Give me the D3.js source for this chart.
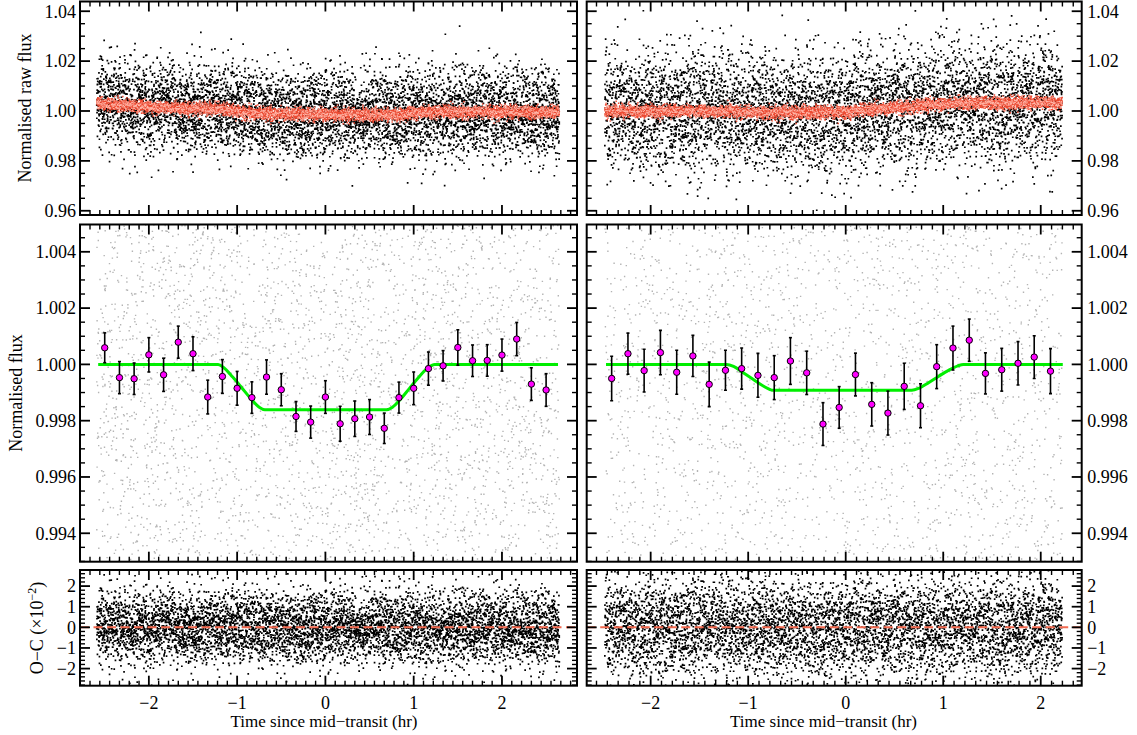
<!DOCTYPE html>
<html><head><meta charset="utf-8">
<script src="https://cdn.jsdelivr.net/npm/d3@7"></script>
<style>
body{margin:0;background:#fff}
svg text{font-family:"Liberation Serif","Times New Roman",Times,serif;fill:#000}
</style>
</head><body>
<svg id="chart" width="1137" height="735" font-family="Liberation Serif, Times New Roman, serif"></svg>
<script>
// ---------------- DATA ----------------
// binned light curve, left transit
const binTimeL = [-2.5,-2.333,-2.167,-2.0,-1.833,-1.667,-1.5,-1.333,-1.167,-1.0,-0.833,-0.667,-0.5,-0.333,-0.167,0.0,0.167,0.333,0.5,0.667,0.833,1.0,1.167,1.333,1.5,1.667,1.833,2.0,2.167,2.333,2.5];
const binFluxL = [1.00059,0.99953,0.99949,1.00034,0.99963,1.00079,1.00038,0.99884,0.99957,0.99915,0.99882,0.99955,0.99910,0.99815,0.99795,0.99884,0.99789,0.99807,0.99813,0.99773,0.99882,0.99915,0.99985,0.99995,1.00060,1.00013,1.00014,1.00033,1.00090,0.99930,0.99909];
const binErrL  = [0.00053,0.00057,0.00056,0.00061,0.00059,0.00057,0.00060,0.00060,0.00060,0.00060,0.00056,0.00061,0.00057,0.00053,0.00057,0.00058,0.00062,0.00063,0.00062,0.00054,0.00055,0.00058,0.00059,0.00054,0.00063,0.00056,0.00056,0.00057,0.00059,0.00058,0.00058];
// binned light curve, right transit
const binTimeR = [-2.4,-2.233,-2.067,-1.9,-1.733,-1.567,-1.4,-1.233,-1.067,-0.9,-0.733,-0.567,-0.4,-0.233,-0.067,0.1,0.267,0.433,0.6,0.767,0.933,1.1,1.267,1.433,1.6,1.767,1.933,2.1];
const binFluxR = [0.99950,1.00038,0.99978,1.00042,0.99972,1.00030,0.99929,0.99979,0.99985,0.99961,0.99953,1.00012,0.99970,0.99788,0.99847,0.99964,0.99858,0.99827,0.99922,0.99853,0.99992,1.00058,1.00086,0.99968,0.99981,1.00004,1.00026,0.99976];
const binErrR  = [0.00079,0.00073,0.00076,0.00079,0.00078,0.00073,0.00079,0.00071,0.00073,0.00078,0.00078,0.00083,0.00077,0.00076,0.00074,0.00076,0.00077,0.00078,0.00082,0.00078,0.00078,0.00078,0.00075,0.00073,0.00076,0.00077,0.00076,0.00080];
// transit model (green line)
const modelTimeL = [-2.574,-1.215,-1.15,-1.05,-0.95,-0.85,-0.75,-0.686,0.692,0.76,0.85,0.95,1.05,1.15,1.239,2.635];
const modelFluxL = [1,1,0.99988,0.99955,0.99918,0.99880,0.99848,0.99839,0.99839,0.99848,0.99876,0.99914,0.99952,0.99985,1,1];
const modelTimeR = [-2.458,-1.221,-1.15,-1.05,-0.95,-0.85,-0.742,0.677,0.75,0.85,0.95,1.05,1.15,1.206,2.226];
const modelFluxR = [1,1,0.99993,0.99970,0.99947,0.99924,0.99908,0.99908,0.99915,0.99935,0.99957,0.99978,0.99995,1,1];
// systematics trend of the raw flux (red band centre)
const trendTimeL = [-2.59,-2.0,-1.0,0.0,1.0,2.0,2.65];
const trendFluxL = [1.0030,1.0016,1.0006,1.0002,0.9998,0.9996,0.9996];
const trendTimeR = [-2.47,-1.0,0.0,0.4,0.8,2.22];
const trendFluxR = [0.9999,1.0000,1.0005,1.0020,1.0030,1.0033];
// unbinned cloud description (individual points are not readable)
const cloudSpanL = [-2.59, 2.65], cloudCountL = 6500, cloudSigmaL = 0.0088;
const cloudSpanR = [-2.47, 2.22], cloudCountR = 6000, cloudSigmaR = 0.0120;
const bandSigma = 0.0012;
// axis ticks and labels
const xTicks = [-2,-1,0,1,2];
const xTickLabels = ["\u22122","\u22121","0","1","2"];
const rawTicks = [0.96,0.98,1.00,1.02,1.04];
const rawTickLabels = ["0.96","0.98","1.00","1.02","1.04"];
const fluxTicks = [0.994,0.996,0.998,1.000,1.002,1.004];
const fluxTickLabels = ["0.994","0.996","0.998","1.000","1.002","1.004"];
const ocTicks = [-2,-1,0,1,2];
const ocTickLabels = ["\u22122","\u22121","0","1","2"];

// ---------------- LAYOUT ----------------
const FONT = "Liberation Serif, Times New Roman, serif";
const svg = d3.select("#chart");
const cols = [
  {x0:80,   x1:577,    dom:[-2.78, 2.85]},
  {x0:586.7,x1:1081.7, dom:[-2.656, 2.42]}
];
const rows = [
  {y0:1.5,  y1:215,   dom:[0.9583, 1.0439], ticks:rawTicks,  labels:rawTickLabels,  minor:0.005},
  {y0:224.5,y1:561.7, dom:[0.99299,1.00497],ticks:fluxTicks, labels:fluxTickLabels, minor:0.0005},
  {y0:570,  y1:685.7, dom:[-2.83, 2.78],    ticks:ocTicks,   labels:ocTickLabels,   minor:0.2}
];
const xMinorStep = 1/9;

// deterministic generator for the unreadable point clouds
function mulberry32(a){return function(){a|=0;a=a+0x6D2B79F5|0;let t=Math.imul(a^a>>>15,1|a);t=t+Math.imul(t^t>>>7,61|t)^t;return((t^t>>>14)>>>0)/4294967296;}}
function gauss(rng){let u=0,v=0;while(u===0)u=rng();v=rng();return Math.sqrt(-2*Math.log(u))*Math.cos(2*Math.PI*v);}

function interp(xs, ys){ return d3.scaleLinear().domain(xs).range(ys).clamp(true); }

function makeCloud(span, n, sigma, trendT, trendF, modT, modF, seed){
  const rng = mulberry32(seed);
  const tr = interp(trendT, trendF), mo = interp(modT, modF);
  const pts = [];
  for(let i=0;i<n;i++){
    const t = span[0] + (span[1]-span[0])*i/(n-1);
    const e = gauss(rng)*sigma;
    const b = gauss(rng)*bandSigma;
    pts.push({t, raw: tr(t)*mo(t)*(1+e), band: tr(t)*mo(t)+b, det: mo(t)+e, res: e*100});
  }
  return pts;
}
const clouds = [
  makeCloud(cloudSpanL, cloudCountL, cloudSigmaL, trendTimeL, trendFluxL, modelTimeL, modelFluxL, 12345),
  makeCloud(cloudSpanR, cloudCountR, cloudSigmaR, trendTimeR, trendFluxR, modelTimeR, modelFluxR, 67890)
];
const bins = [
  binTimeL.map((t,i)=>({t, f:binFluxL[i], e:binErrL[i]})),
  binTimeR.map((t,i)=>({t, f:binFluxR[i], e:binErrR[i]}))
];
const models = [
  modelTimeL.map((t,i)=>({t, f:modelFluxL[i]})),
  modelTimeR.map((t,i)=>({t, f:modelFluxR[i]}))
];

function dotPath(pts, xs, ys, key, s, yr){
  let d = "";
  for(const p of pts){
    const v = p[key];
    if(v < yr[0] || v > yr[1]) continue;
    const x = xs(p.t) - s/2, y = ys(v) - s/2;
    d += "M"+x.toFixed(1)+","+y.toFixed(1)+"h"+s+"v"+s+"h-"+s+"z";
  }
  return d;
}

cols.forEach((c, ci) => {
  const xs = d3.scaleLinear().domain(c.dom).range([c.x0, c.x1]);
  rows.forEach((r, ri) => {
    const ys = d3.scaleLinear().domain(r.dom).range([r.y1, r.y0]);
    const g = svg.append("g");
    const clipId = "clip"+ci+ri;
    svg.append("clipPath").attr("id", clipId).append("rect")
      .attr("x", c.x0).attr("y", r.y0).attr("width", c.x1-c.x0).attr("height", r.y1-r.y0);
    const pg = g.append("g").attr("clip-path", "url(#"+clipId+")");
    const yr = [Math.min(...r.dom), Math.max(...r.dom)];
    const pts = clouds[ci];
    if(ri === 0){
      pg.append("path").attr("d", dotPath(pts, xs, ys, "raw", 1.7, yr)).attr("fill", "#000");
      pg.append("path").attr("d", dotPath(pts, xs, ys, "band", 1.5, yr)).attr("fill", "#ec4a32");
      pg.append("path").attr("d", dotPath(pts.filter((p,i)=>i%3===0), xs, ys, "band", 1.1, yr)).attr("fill", "#ffb4a6");
    } else if(ri === 1){
      pg.append("path").attr("d", dotPath(pts, xs, ys, "det", 1.4, yr)).attr("fill", "#b4b4b4");
      // model
      pg.append("path").datum(models[ci])
        .attr("d", d3.line().x(d=>xs(d.t)).y(d=>ys(d.f)).curve(d3.curveMonotoneX))
        .attr("fill","none").attr("stroke","#00ee00").attr("stroke-width",3);
      // error bars
      const eb = pg.append("g").attr("stroke","#000").attr("stroke-width",1.6);
      eb.selectAll("line.v").data(bins[ci]).join("line").attr("class","v")
        .attr("x1",d=>xs(d.t)).attr("x2",d=>xs(d.t))
        .attr("y1",d=>ys(d.f-d.e)).attr("y2",d=>ys(d.f+d.e));
      eb.selectAll("line.t").data(bins[ci]).join("line").attr("class","t")
        .attr("x1",d=>xs(d.t)-1.5).attr("x2",d=>xs(d.t)+1.5)
        .attr("y1",d=>ys(d.f+d.e)).attr("y2",d=>ys(d.f+d.e));
      eb.selectAll("line.b").data(bins[ci]).join("line").attr("class","b")
        .attr("x1",d=>xs(d.t)-1.5).attr("x2",d=>xs(d.t)+1.5)
        .attr("y1",d=>ys(d.f-d.e)).attr("y2",d=>ys(d.f-d.e));
      pg.append("g").selectAll("circle").data(bins[ci]).join("circle")
        .attr("cx",d=>xs(d.t)).attr("cy",d=>ys(d.f)).attr("r",3.2)
        .attr("fill","#ff00ff").attr("stroke","#000").attr("stroke-width",1);
    } else {
      pg.append("path").attr("d", dotPath(pts, xs, ys, "res", 1.7, yr)).attr("fill", "#000");
      pg.append("line").attr("x1", c.x0).attr("x2", c.x1).attr("y1", ys(0)).attr("y2", ys(0))
        .attr("stroke","#f26a50").attr("stroke-width",2).attr("stroke-dasharray","9,4.5");
    }

    // ticks (inward, all four sides)
    const tk = g.append("g").attr("stroke","#000");
    const xMin = d3.range(Math.ceil(c.dom[0]/xMinorStep), Math.floor(c.dom[1]/xMinorStep)+1).map(k=>k*xMinorStep);
    xMin.forEach(v=>{
      const isMaj = xTicks.some(m=>Math.abs(m-v)<1e-6);
      const L = isMaj?10:5;
      const x = xs(v);
      tk.append("line").attr("x1",x).attr("x2",x).attr("y1",r.y1).attr("y2",r.y1-L).attr("stroke-width",isMaj?1.8:1.4);
      tk.append("line").attr("x1",x).attr("x2",x).attr("y1",r.y0).attr("y2",r.y0+L).attr("stroke-width",isMaj?1.8:1.4);
    });
    const yMin = d3.range(Math.ceil(yr[0]/r.minor-1e-6), Math.floor(yr[1]/r.minor+1e-6)+1).map(k=>k*r.minor);
    yMin.forEach(v=>{
      const isMaj = r.ticks.some(m=>Math.abs(m-v)<r.minor*1e-3);
      const L = isMaj?10:5;
      const y = ys(v);
      tk.append("line").attr("x1",c.x0).attr("x2",c.x0+L).attr("y1",y).attr("y2",y).attr("stroke-width",isMaj?1.8:1.4);
      tk.append("line").attr("x1",c.x1).attr("x2",c.x1-L).attr("y1",y).attr("y2",y).attr("stroke-width",isMaj?1.8:1.4);
    });
    // frame
    g.append("rect").attr("x",c.x0).attr("y",r.y0).attr("width",c.x1-c.x0).attr("height",r.y1-r.y0)
      .attr("fill","none").attr("stroke","#000").attr("stroke-width",2);

    // y tick labels
    const lab = g.append("g").attr("font-size",18).attr("font-family",FONT);
    r.ticks.forEach((v,k)=>{
      lab.append("text")
        .attr("x", ci===0 ? c.x0-4 : c.x1+5.5)
        .attr("y", ys(v)).attr("dy","0.35em")
        .attr("text-anchor", ci===0 ? "end" : "start")
        .text(r.labels[k]);
    });
    // x tick labels (bottom row)
    if(ri === 2){
      xTicks.forEach((v,k)=>{
        if(v < c.dom[0] || v > c.dom[1]) return;
        lab.append("text").attr("x", xs(v)).attr("y", 709).attr("text-anchor","middle").text(xTickLabels[k]);
      });
    }
  });
});

// axis titles
const titles = svg.append("g").attr("font-family",FONT);
titles.append("text").attr("font-size",18).attr("text-anchor","middle")
  .attr("transform","translate(31,108) rotate(-90)").text("Normalised raw flux");
titles.append("text").attr("font-size",18).attr("text-anchor","middle")
  .attr("transform","translate(22,393) rotate(-90)").text("Normalised flux");
const oc = titles.append("text").attr("font-size",18).attr("text-anchor","middle")
  .attr("transform","translate(43,628) rotate(-90)");
oc.append("tspan").text("O\u2212C (\u00d710");
oc.append("tspan").attr("font-size",12).attr("dy",-7).text("\u22122");
oc.append("tspan").attr("dy",7).text(")");
titles.append("text").attr("font-size",17).attr("text-anchor","middle").attr("x",324).attr("y",727).text("Time since mid\u2212transit (hr)");
titles.append("text").attr("font-size",17).attr("text-anchor","middle").attr("x",823.5).attr("y",727).text("Time since mid\u2212transit (hr)");
</script>
</body></html>
